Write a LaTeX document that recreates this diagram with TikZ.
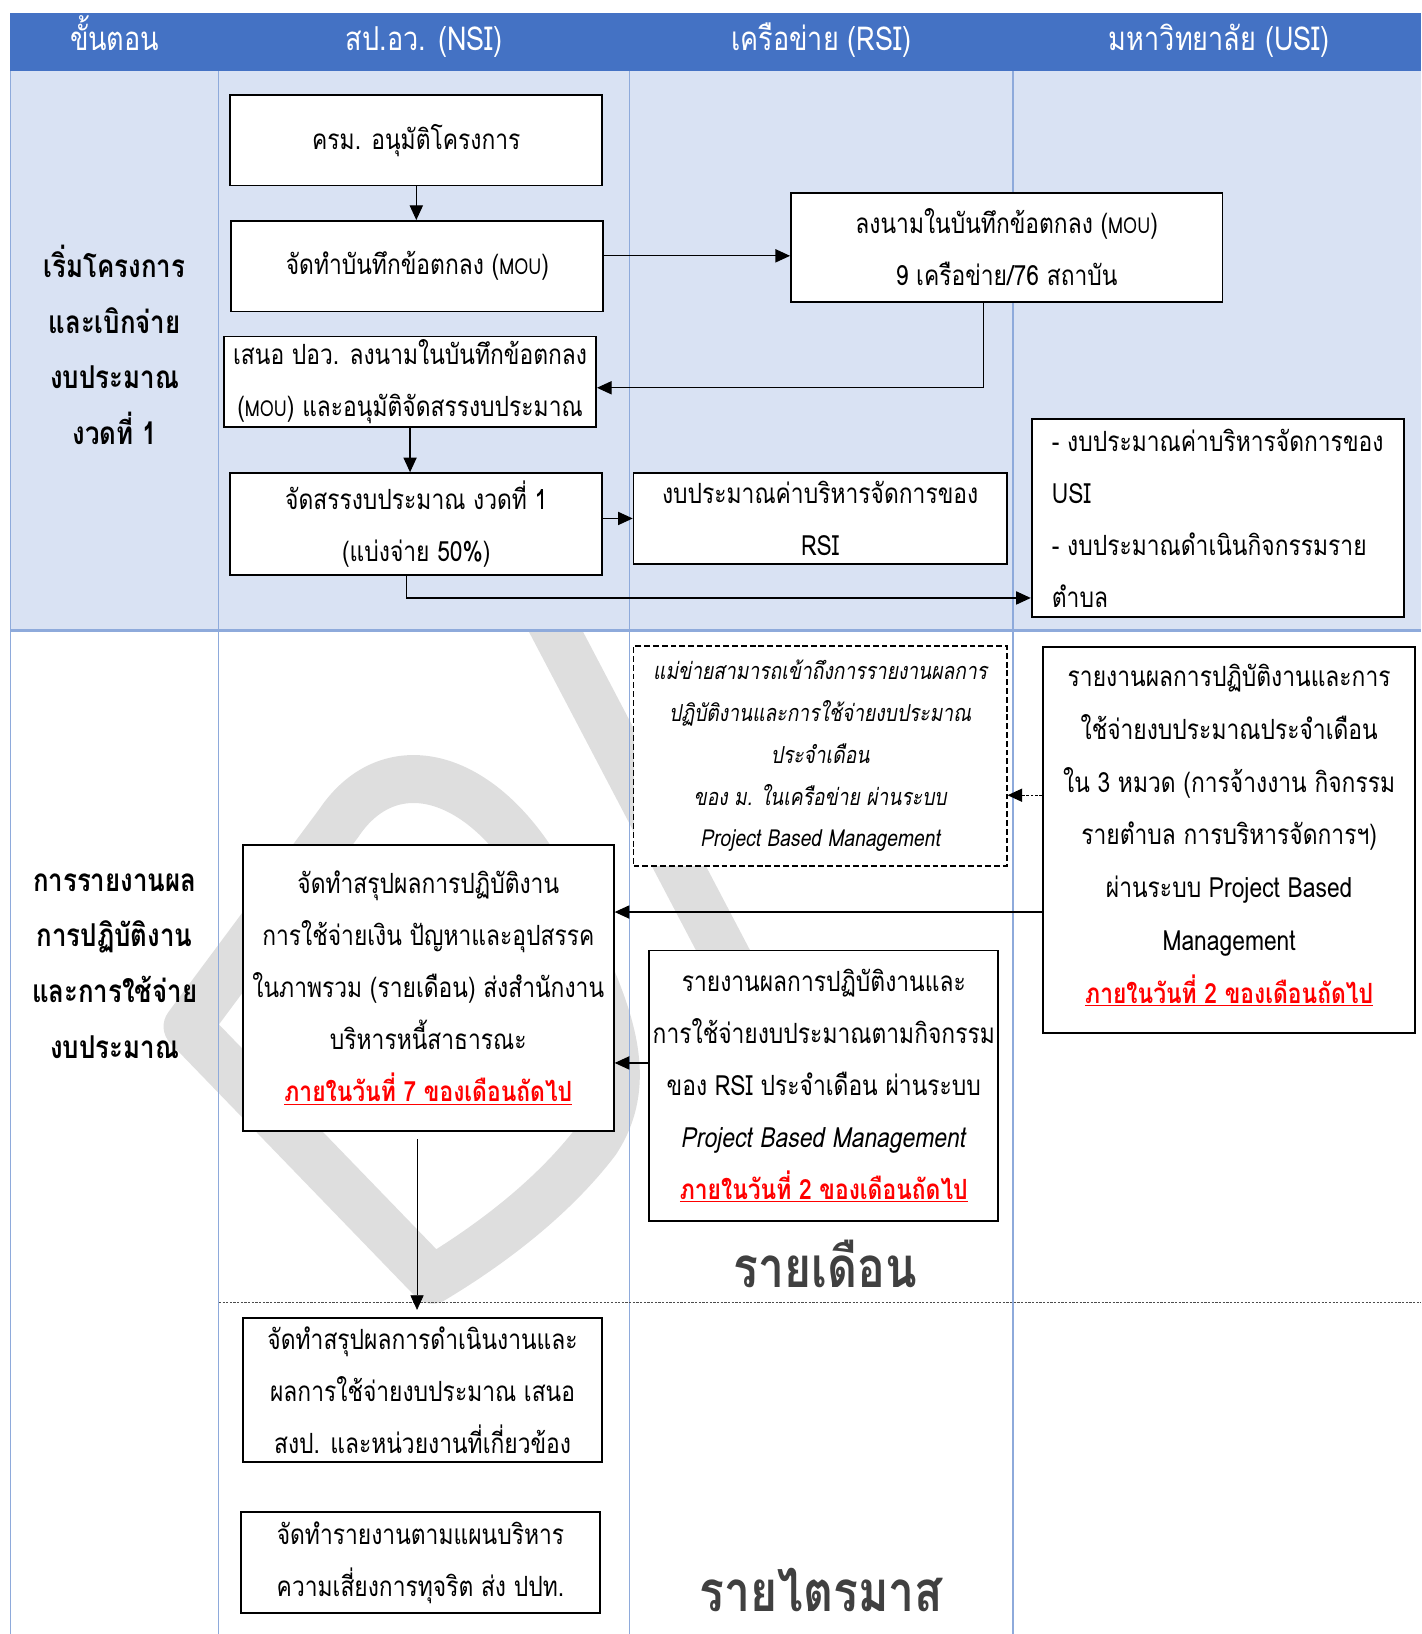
\documentclass[tikz,border=0pt]{standalone}
\usepackage{fontspec}
\setmainfont[Script=Thai]{Loma}
\newfontfamily\thai[Script=Thai,FakeStretch=0.82]{Loma}
\usetikzlibrary{positioning,arrows.meta}
\definecolor{hdblue}{HTML}{4472C4}
\definecolor{lanefill}{HTML}{D9E2F3}
\definecolor{laneline}{HTML}{8EAADB}
\definecolor{wmgray}{HTML}{DEDEDE}
\definecolor{bigtxt}{HTML}{404040}
\newcommand\bodyfont{\thai\fontsize{19}{35.5}\selectfont}
\newcommand\mou{{\fontsize{15}{35}\selectfont MOU}}
\newcommand\due[1]{\textcolor{red}{\bfseries\underline{#1}}}
\tikzset{wh/.style 2 args={minimum width=#1*0.025cm,minimum height=#2*0.025cm}}

\begin{document}
\begin{tikzpicture}[x=0.025cm,y=-0.025cm]
\tikzstyle{every node}=[font=\bodyfont]
\tikzstyle{box}=[draw,fill=white,line width=1.2pt,align=center,inner sep=0pt]
\tikzstyle{hdtext}=[text=white,anchor=base,font=\thai\fontsize{22.5}{26}\selectfont]
\tikzstyle{lbl}=[align=center,font=\thai\bfseries\fontsize{21.5}{38}\selectfont]
\tikzstyle{big}=[text=bigtxt,font=\thai\bfseries\fontsize{38.5}{44}\selectfont]
\tikzstyle{arr}=[line width=0.8pt,-{Triangle[length=10pt,width=9pt]}]
\useasboundingbox (0,0) rectangle (1364,1568);

% watermark
\draw[wmgray,line width=1.15cm,line cap=round,line join=round] (415,1228) -- (180,985) -- (325,790)
 .. controls (375,715) and (470,740) .. (530,860) .. controls (578,955) and (615,1030) .. (572,1095)
 .. controls (530,1150) and (470,1195) .. (415,1228) -- cycle;
\draw[wmgray,line width=1.15cm] (525,590) -- (740,1000);

% lanes
\fill[lanefill] (10,68) rectangle (1364,605);
\fill[hdblue] (10,12) rectangle (1364,68);
\foreach \x in {10,210,604,972}
  \draw[laneline,line width=0.8pt] (\x,68) -- (\x,1568);
\draw[laneline,line width=1.5pt] (10,605) -- (1364,605);
\draw[black!70,line width=0.6pt,dash pattern=on 1.5pt off 1pt] (210,1250) -- (1364,1250);

\node[hdtext] (h0) at (110,48) {ขั้นตอน};
\node[hdtext] (h1) at (407,48) {สป.อว. (NSI)};
\node[hdtext] (h2) at (788,48) {เครือข่าย (RSI)};
\node[hdtext] (h3) at (1170,48) {มหาวิทยาลัย (USI)};

\node[lbl] (s1) at (110,331) {เริ่มโครงการ\\และเบิกจ่าย\\งบประมาณ\\งวดที่ 1};
\node[lbl] (s2) at (110,927) {การรายงานผล\\การปฏิบัติงาน\\และการใช้จ่าย\\งบประมาณ};

% start of project
\node[box,wh={357}{87}] (b1) at (399.5,134.5) {ครม. อนุมัติโครงการ};
\node[box,wh={357}{87}] (b2) at (400.5,255.5) {จัดทำบันทึกข้อตกลง (\mou)};
\node[box,wh={414}{105}] (b3) at (966,237.5) {ลงนามในบันทึกข้อตกลง (\mou)\\9 เครือข่าย/76 สถาบัน};
\node[box,wh={357}{87}] (b4) at (393.5,366.5) {เสนอ ปอว. ลงนามในบันทึกข้อตกลง\\(\mou) และอนุมัติจัดสรรงบประมาณ};
\node[box,wh={357}{98}] (b5) at (399.5,503) {จัดสรรงบประมาณ งวดที่ 1\\(แบ่งจ่าย 50\%)};
\node[box,wh={358}{87}] (b6) at (787,497.5) {งบประมาณค่าบริหารจัดการของ\\RSI};
\node[box,wh={357}{190},align=left] (b7) at (1168.5,497) {- งบประมาณค่าบริหารจัดการของ\\USI\\- งบประมาณดำเนินกิจกรรมราย\\ตำบล};

% monthly reports
\node[box,wh={358}{211},dash pattern=on 4pt off 2pt,font=\thai\itshape\fontsize{16}{28.5}\selectfont] (b8) at (787,725.5)
 {แม่ข่ายสามารถเข้าถึงการรายงานผลการ\\ปฏิบัติงานและการใช้จ่ายงบประมาณ\\ประจำเดือน\\ของ ม. ในเครือข่าย ผ่านระบบ\\Project Based Management};
\node[box,wh={357}{370},font=\thai\fontsize{19}{36}\selectfont] (b9) at (1179.5,806)
 {รายงานผลการปฏิบัติงานและการ\\ใช้จ่ายงบประมาณประจำเดือน\\ใน 3 หมวด (การจ้างงาน กิจกรรม\\รายตำบล การบริหารจัดการฯ)\\ผ่านระบบ Project Based\\Management\\\due{ภายในวันที่ 2 ของเดือนถัดไป}\\[-27.5pt]};
\node[box,wh={356}{274}] (b10) at (411,948)
 {จัดทำสรุปผลการปฏิบัติงาน\\การใช้จ่ายเงิน ปัญหาและอุปสรรค\\ในภาพรวม (รายเดือน) ส่งสำนักงาน\\บริหารหนี้สาธารณะ\\\due{ภายในวันที่ 7 ของเดือนถัดไป}};
\node[box,wh={335}{260}] (b11) at (790.5,1042)
 {รายงานผลการปฏิบัติงานและ\\การใช้จ่ายงบประมาณตามกิจกรรม\\ของ RSI ประจำเดือน ผ่านระบบ\\\textit{Project Based Management}\\\due{ภายในวันที่ 2 ของเดือนถัดไป}};
\node[big] (m1) at (792,1213) {รายเดือน};

% quarterly reports
\node[box,wh={345}{138}] (b13) at (405.5,1334) {จัดทำสรุปผลการดำเนินงานและ\\ผลการใช้จ่ายงบประมาณ เสนอ\\สงป. และหน่วยงานที่เกี่ยวข้อง};
\node[box,wh={345}{97}] (b14) at (403.5,1499.5) {จัดทำรายงานตามแผนบริหาร\\ความเสี่ยงการทุจริต ส่ง ปปท.};
\node[big] (m2) at (788,1526) {รายไตรมาส};

% connectors
\coordinate (c3) at ([xshift=-0.55cm]b3.south);
\coordinate (c4) at ([yshift=-0.14cm]b4.east);
\coordinate (c5) at ([xshift=-0.24cm]b5.south);
\coordinate (c7) at ([yshift=-1.92cm]b7.west);
\coordinate (c8) at ([yshift=-0.94cm]b8.east);
\coordinate (c9) at ([yshift=1.82cm]b10.east);
\coordinate (c10) at ([xshift=-0.27cm,yshift=-0.18cm]b10.south);
\coordinate (c12) at (c10 |- 0,1257);
\draw[arr] (b1.south) -- (b1.south |- b2.north);
\draw[arr] ([yshift=0.25cm]b2.east) -- ([yshift=0.25cm]b2.east -| b3.west);
\draw[arr] (c3) |- (c4);
\draw[arr] (b4.south) -- (b4.south |- b5.north);
\draw[arr] (b6.west -| b5.east) -- (b6.west);
\draw[arr] (c5) |- (c7);
\draw[arr,dash pattern=on 2pt off 1pt] (c8 -| b9.west) -- (c8);
\draw[arr] (c9 -| b9.west) -- (c9);
\draw[arr] ([yshift=0.55cm]b11.west) -- ([yshift=0.55cm]b11.west -| b10.east);
\draw[arr,line width=0.5pt] (c10) -- (c12);

\end{tikzpicture}
\end{document}
